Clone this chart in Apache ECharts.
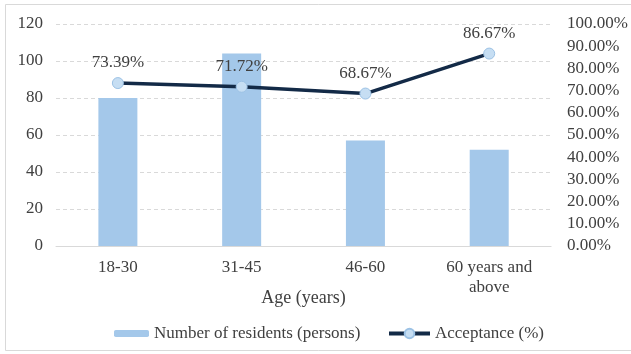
<!DOCTYPE html>
<html>
<head>
<meta charset="utf-8">
<script src="https://cdn.jsdelivr.net/npm/echarts@6/dist/echarts.min.js"></script>
<style>
  html, body { margin: 0; padding: 0; background: #fff; }
  #chart { width: 631px; height: 354px; }
</style>
</head>
<body>
<div id="chart"></div>
<script>
// data
const categories = ["18-30", "31-45", "46-60", "60 years and\nabove"];
const residents = [80, 104, 57, 52];
const acceptance = [73.39, 71.72, 68.67, 86.67]; // percent
const leftTicks = { min: 0, max: 120, interval: 20 };
const rightTicks = { min: 0, max: 100, interval: 10 };

const font = "Liberation Serif";
const textColor = "#404040";
const legendText = { fontFamily: font, fontSize: 17, color: textColor };

const chart = echarts.init(document.getElementById("chart"));
chart.setOption({
  backgroundColor: "#fff",
  animation: false,
  textStyle: { fontFamily: font },
  // light frame round the chart
  graphic: [
    {
      type: "rect",
      shape: { x: 5.5, y: 4.5, width: 640, height: 346 },
      style: { fill: "none", stroke: "#d9d9d9", lineWidth: 1 },
      silent: true,
    },
  ],
  grid: { left: 56, right: 79, top: 24, bottom: 108 },
  // two legends so the bar swatch and the line swatch can have their own sizes
  legend: [
    {
      left: 109,
      top: 320,
      itemWidth: 35,
      itemHeight: 7,
      itemGap: 0,
      textStyle: legendText,
      data: ["Number of residents (persons)"],
    },
    {
      left: 382,
      top: 320,
      itemWidth: 41,
      itemHeight: 12,
      textStyle: legendText,
      data: [{ name: "Acceptance (%)", lineStyle: { width: 4 } }],
    },
  ],
  xAxis: {
    type: "category",
    data: categories,
    name: "Age (years)",
    nameLocation: "middle",
    nameGap: 43,
    nameMoveOverlap: false,
    nameTextStyle: { fontFamily: font, fontSize: 18, color: textColor },
    axisLine: { show: true, lineStyle: { color: "#d9d9d9", width: 1 } },
    axisTick: { show: false },
    axisLabel: {
      fontFamily: font,
      fontSize: 17,
      color: textColor,
      margin: 12,
      lineHeight: 20,
    },
  },
  yAxis: [
    {
      type: "value",
      min: leftTicks.min,
      max: leftTicks.max,
      interval: leftTicks.interval,
      axisLine: { show: false },
      axisTick: { show: false },
      splitLine: { lineStyle: { color: "#d9d9d9", type: [4, 3], width: 1 } },
      axisLabel: { fontFamily: font, fontSize: 17, color: textColor, margin: 13 },
    },
    {
      type: "value",
      position: "right",
      min: rightTicks.min,
      max: rightTicks.max,
      interval: rightTicks.interval,
      axisLine: { show: false },
      axisTick: { show: false },
      splitLine: { show: false },
      axisLabel: {
        fontFamily: font,
        fontSize: 17,
        color: textColor,
        margin: 16,
        formatter: (v) => v.toFixed(2) + "%",
      },
    },
  ],
  series: [
    {
      name: "Number of residents (persons)",
      type: "bar",
      yAxisIndex: 0,
      barWidth: 39,
      itemStyle: { color: "#a4c8ea" },
      data: residents,
    },
    {
      name: "Acceptance (%)",
      type: "line",
      yAxisIndex: 1,
      symbol: "circle",
      symbolSize: 11,
      lineStyle: { color: "#132a47", width: 3.5 },
      itemStyle: { color: "#c6def3", borderColor: "#9cc2e5", borderWidth: 1 },
      label: {
        show: true,
        position: "top",
        distance: 6,
        fontFamily: font,
        fontSize: 17,
        color: textColor,
        formatter: (p) => p.value.toFixed(2) + "%",
      },
      data: acceptance,
    },
  ],
});
</script>
</body>
</html>
